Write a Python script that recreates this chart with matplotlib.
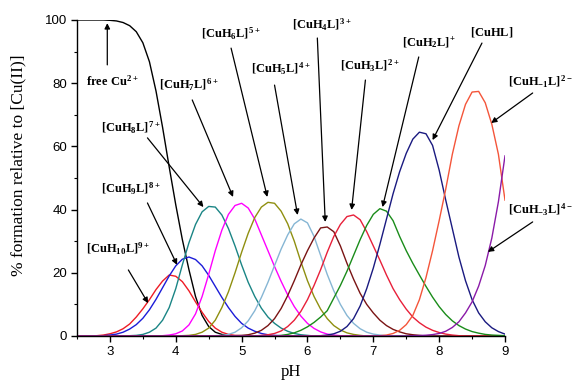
import numpy as np
import matplotlib
matplotlib.use("Agg")
import matplotlib.pyplot as plt
from matplotlib.ticker import MultipleLocator

plt.rcParams['mathtext.fontset'] = 'custom'
plt.rcParams['mathtext.rm'] = 'Liberation Serif:bold'
plt.rcParams['mathtext.it'] = 'Liberation Serif:bold'
plt.rcParams['mathtext.bf'] = 'Liberation Serif:bold'

# ---- data: % formation read at pH steps of 0.1, starting at the given pH ----
ph_min, ph_max, ph_step = 2.5, 9.0, 0.1

free_cu_start = 2.5
free_cu = [100, 100, 100, 100, 100, 99.9, 99.7, 99.2, 98.2, 96.3, 92.8, 86.8, 77.5,
           66.0, 53.5, 41.5, 30.5, 21.0, 12.5, 6.5, 3.0, 1.2, 0.5, 0.2]

h10_start = 2.7
h10 = [0.05, 0.1, 0.3, 0.7, 1.3, 2.3, 3.8, 6.0, 8.6, 11.5, 14.7, 17.4, 19.3, 18.9,
       17.2, 14.3, 10.8, 7.5, 4.6, 2.5, 1.2, 0.5, 0.2, 0.1]

h9_start = 2.9
h9 = [0.1, 0.3, 0.6, 1.2, 2.2, 3.6, 5.6, 8.3, 11.6, 15.3, 19.0, 22.2, 24.3, 25.0,
      24.2, 22.2, 19.2, 15.7, 12.2, 9.0, 6.2, 4.0, 2.5, 1.5, 0.8, 0.4, 0.2, 0.1]

h8_start = 3.3
h8 = [0.1, 0.2, 0.5, 1.2, 2.5, 5.0, 9.0, 15.0, 22.5, 29.5, 35.3, 39.3, 41.0, 40.8,
      38.3, 34.0, 28.5, 22.5, 17.0, 12.5, 8.8, 6.0, 4.0, 2.5, 1.5, 0.8, 0.4, 0.2]

h7_start = 3.8
h7 = [0.1, 0.3, 0.7, 1.6, 3.5, 7.0, 12.5, 19.5, 27.0, 33.5, 38.5, 41.3, 42.0, 40.5,
      37.0, 32.0, 27.0, 22.0, 17.3, 13.0, 9.3, 6.3, 4.0, 2.4, 1.3, 0.6, 0.3, 0.1]

h6_start = 4.1
h6 = [0.1, 0.2, 0.5, 1.2, 2.5, 5.0, 9.0, 14.0, 20.0, 26.5, 32.5, 37.5, 40.8, 42.3,
      42.0, 39.5, 35.5, 30.0, 23.5, 17.5, 12.5, 8.5, 5.5, 3.3, 1.9, 1.0, 0.5, 0.2]

h5_start = 4.6
h5 = [0.1, 0.2, 0.5, 1.2, 2.6, 4.8, 8.0, 12.2, 17.0, 22.3, 27.5, 32.0, 35.5, 37.0,
      35.8, 31.5, 25.5, 19.5, 14.3, 10.0, 6.5, 4.0, 2.3, 1.2, 0.6, 0.3, 0.1]

h4_start = 4.9
h4 = [0.1, 0.2, 0.4, 0.9, 1.8, 3.3, 5.5, 8.7, 12.8, 17.5, 22.5, 27.0, 31.0, 34.2,
      34.5, 33.0, 28.5, 23.0, 18.0, 13.5, 10.0, 7.3, 5.0, 3.3, 2.1, 1.3, 0.7, 0.4, 0.2]

h3_start = 5.3
h3 = [0.2, 0.4, 0.8, 1.6, 3.0, 5.0, 7.8, 11.5, 16.0, 21.0, 26.5, 31.5, 35.3, 37.8,
      38.3, 36.8, 33.0, 28.5, 24.0, 19.3, 15.0, 11.5, 8.5, 6.0, 4.2, 2.8, 1.8, 1.1,
      0.6, 0.3, 0.1]

h2_start = 5.6
h2 = [0.2, 0.5, 1.0, 1.8, 2.9, 4.3, 6.0, 8.0, 12.0, 16.0, 20.5, 25.5, 30.5, 35.0,
      38.5, 40.3, 39.5, 36.5, 31.5, 27.0, 23.0, 19.3, 15.7, 12.3, 9.3, 6.8, 4.8,
      3.3, 2.2, 1.4, 0.9, 0.5, 0.3, 0.2, 0.1]

h1_start = 6.2
h1 = [0.1, 0.3, 0.7, 1.5, 3.0, 5.5, 9.5, 15.0, 21.5, 29.0, 37.0, 45.0, 52.0, 57.8,
      62.3, 64.5, 64.0, 60.3, 52.5, 43.0, 34.0, 25.0, 17.5, 11.5, 7.3, 4.5, 2.6,
      1.4, 0.6]

hm1_start = 7.1
hm1 = [0.1, 0.3, 0.8, 1.8, 3.6, 6.5, 11.5, 18.5, 27.0, 36.5, 46.5, 57.5, 66.5,
       73.3, 77.2, 77.4, 73.8, 67.0, 57.5, 43.0]

hm3_start = 7.6
hm3 = [0.1, 0.15, 0.25, 0.45, 0.8, 1.5, 2.7, 4.5, 7.3, 10.8, 15.8, 22.3, 31.0,
       42.5, 57.0]

colors = ['black', '#ee1c25', '#1c1cd8', '#1a8585', '#ff00ff', '#8f8f10',
          '#86b6d4', '#7a1414', '#e8203a', '#1a8c1a', '#1a1a80', '#f4553a', '#8a1aa8']

# annotations: label, text centre (pH, %), arrow start, arrow tip
labels = [r'$\mathrm{free\ Cu^{2+}}$', r'$\mathrm{[CuH_{10}L]^{9+}}$', r'$\mathrm{[CuH_{9}L]^{8+}}$',
          r'$\mathrm{[CuH_{8}L]^{7+}}$', r'$\mathrm{[CuH_{7}L]^{6+}}$', r'$\mathrm{[CuH_{6}L]^{5+}}$',
          r'$\mathrm{[CuH_{5}L]^{4+}}$', r'$\mathrm{[CuH_{4}L]^{3+}}$', r'$\mathrm{[CuH_{3}L]^{2+}}$',
          r'$\mathrm{[CuH_{2}L]^{+}}$', r'$\mathrm{[CuHL]}$', r'$\mathrm{[CuH_{-1}L]^{2-}}$',
          r'$\mathrm{[CuH_{-3}L]^{4-}}$']
label_xy = [(3.04, 80.5), (3.12, 27.5), (3.32, 46.5), (3.31, 66.0), (4.20, 79.5), (4.83, 95.5),
            (5.59, 84.5), (6.21, 98.5), (6.94, 85.5), (7.84, 93.0), (8.80, 96.3), (9.53, 80.5),
            (9.53, 40.0)]
arrow_from = [(2.96, 85.8), (3.28, 20.9), (3.57, 42.1), (3.57, 62.7), (4.25, 74.7), (4.84, 91.1),
              (5.50, 79.4), (6.15, 94.3), (6.88, 81.0), (7.69, 88.3), (8.65, 92.7), (9.42, 76.9),
              (9.42, 36.1)]
arrow_to = [(2.96, 99.0), (3.58, 10.4), (4.02, 22.5), (4.42, 40.8), (4.87, 44.0), (5.39, 44.0),
            (5.85, 38.3), (6.27, 36.1), (6.67, 39.9), (7.14, 40.8), (7.90, 62.0), (8.79, 67.4),
            (8.74, 26.6)]

# ---- build ----
ph = np.round(np.arange(ph_min, ph_max + 1e-9, ph_step), 1)


def full(start, vals):
    y = np.zeros_like(ph, dtype=float)
    i0 = int(round((start - ph_min) / ph_step))
    y[i0:i0 + len(vals)] = vals
    return y


series = [(free_cu_start, free_cu), (h10_start, h10), (h9_start, h9), (h8_start, h8),
          (h7_start, h7), (h6_start, h6), (h5_start, h5), (h4_start, h4), (h3_start, h3),
          (h2_start, h2), (h1_start, h1), (hm1_start, hm1), (hm3_start, hm3)]

fig = plt.figure(figsize=(5.74, 3.84), dpi=100)
ax = fig.add_axes([77 / 574, 48 / 384, 428 / 574, 316 / 384])

for (start, vals), c in zip(series, colors):
    ax.plot(ph, full(start, vals), color=c, lw=1.0, solid_joinstyle='round')

for lab, txy, a0, a1 in zip(labels, label_xy, arrow_from, arrow_to):
    ax.text(txy[0], txy[1], lab, ha='center', va='center', fontsize=9,
            family='Liberation Serif', fontweight='bold', clip_on=False)
    ax.annotate('', xy=a1, xytext=a0, annotation_clip=False,
                arrowprops=dict(arrowstyle='-|>', color='black', lw=0.9,
                                mutation_scale=8, shrinkA=0, shrinkB=0))

ax.set_xlim(ph_min, ph_max)
ax.set_ylim(0, 100)
ax.xaxis.set_major_locator(MultipleLocator(1))
ax.xaxis.set_minor_locator(MultipleLocator(0.5))
ax.yaxis.set_major_locator(MultipleLocator(20))
ax.yaxis.set_minor_locator(MultipleLocator(10))
ax.set_xticks([3, 4, 5, 6, 7, 8, 9])
for s in ['top', 'right']:
    ax.spines[s].set_visible(False)
for s in ['left', 'bottom']:
    ax.spines[s].set_linewidth(1.0)
ax.tick_params(which='major', direction='out', length=4, width=1.0, pad=3,
               labelsize=9.5, labelfontfamily='Liberation Sans')
ax.tick_params(which='minor', direction='out', length=2.5, width=0.8)

ax.set_xlabel('pH', family='Liberation Serif', fontsize=12)
ax.set_ylabel('% formation relative to [Cu(II)]', family='Liberation Serif', fontsize=12.5)
ax.xaxis.set_label_coords(0.5, -0.09)
ax.yaxis.set_label_coords(-0.118, 0.54)

fig.savefig('out.png', dpi=100)
